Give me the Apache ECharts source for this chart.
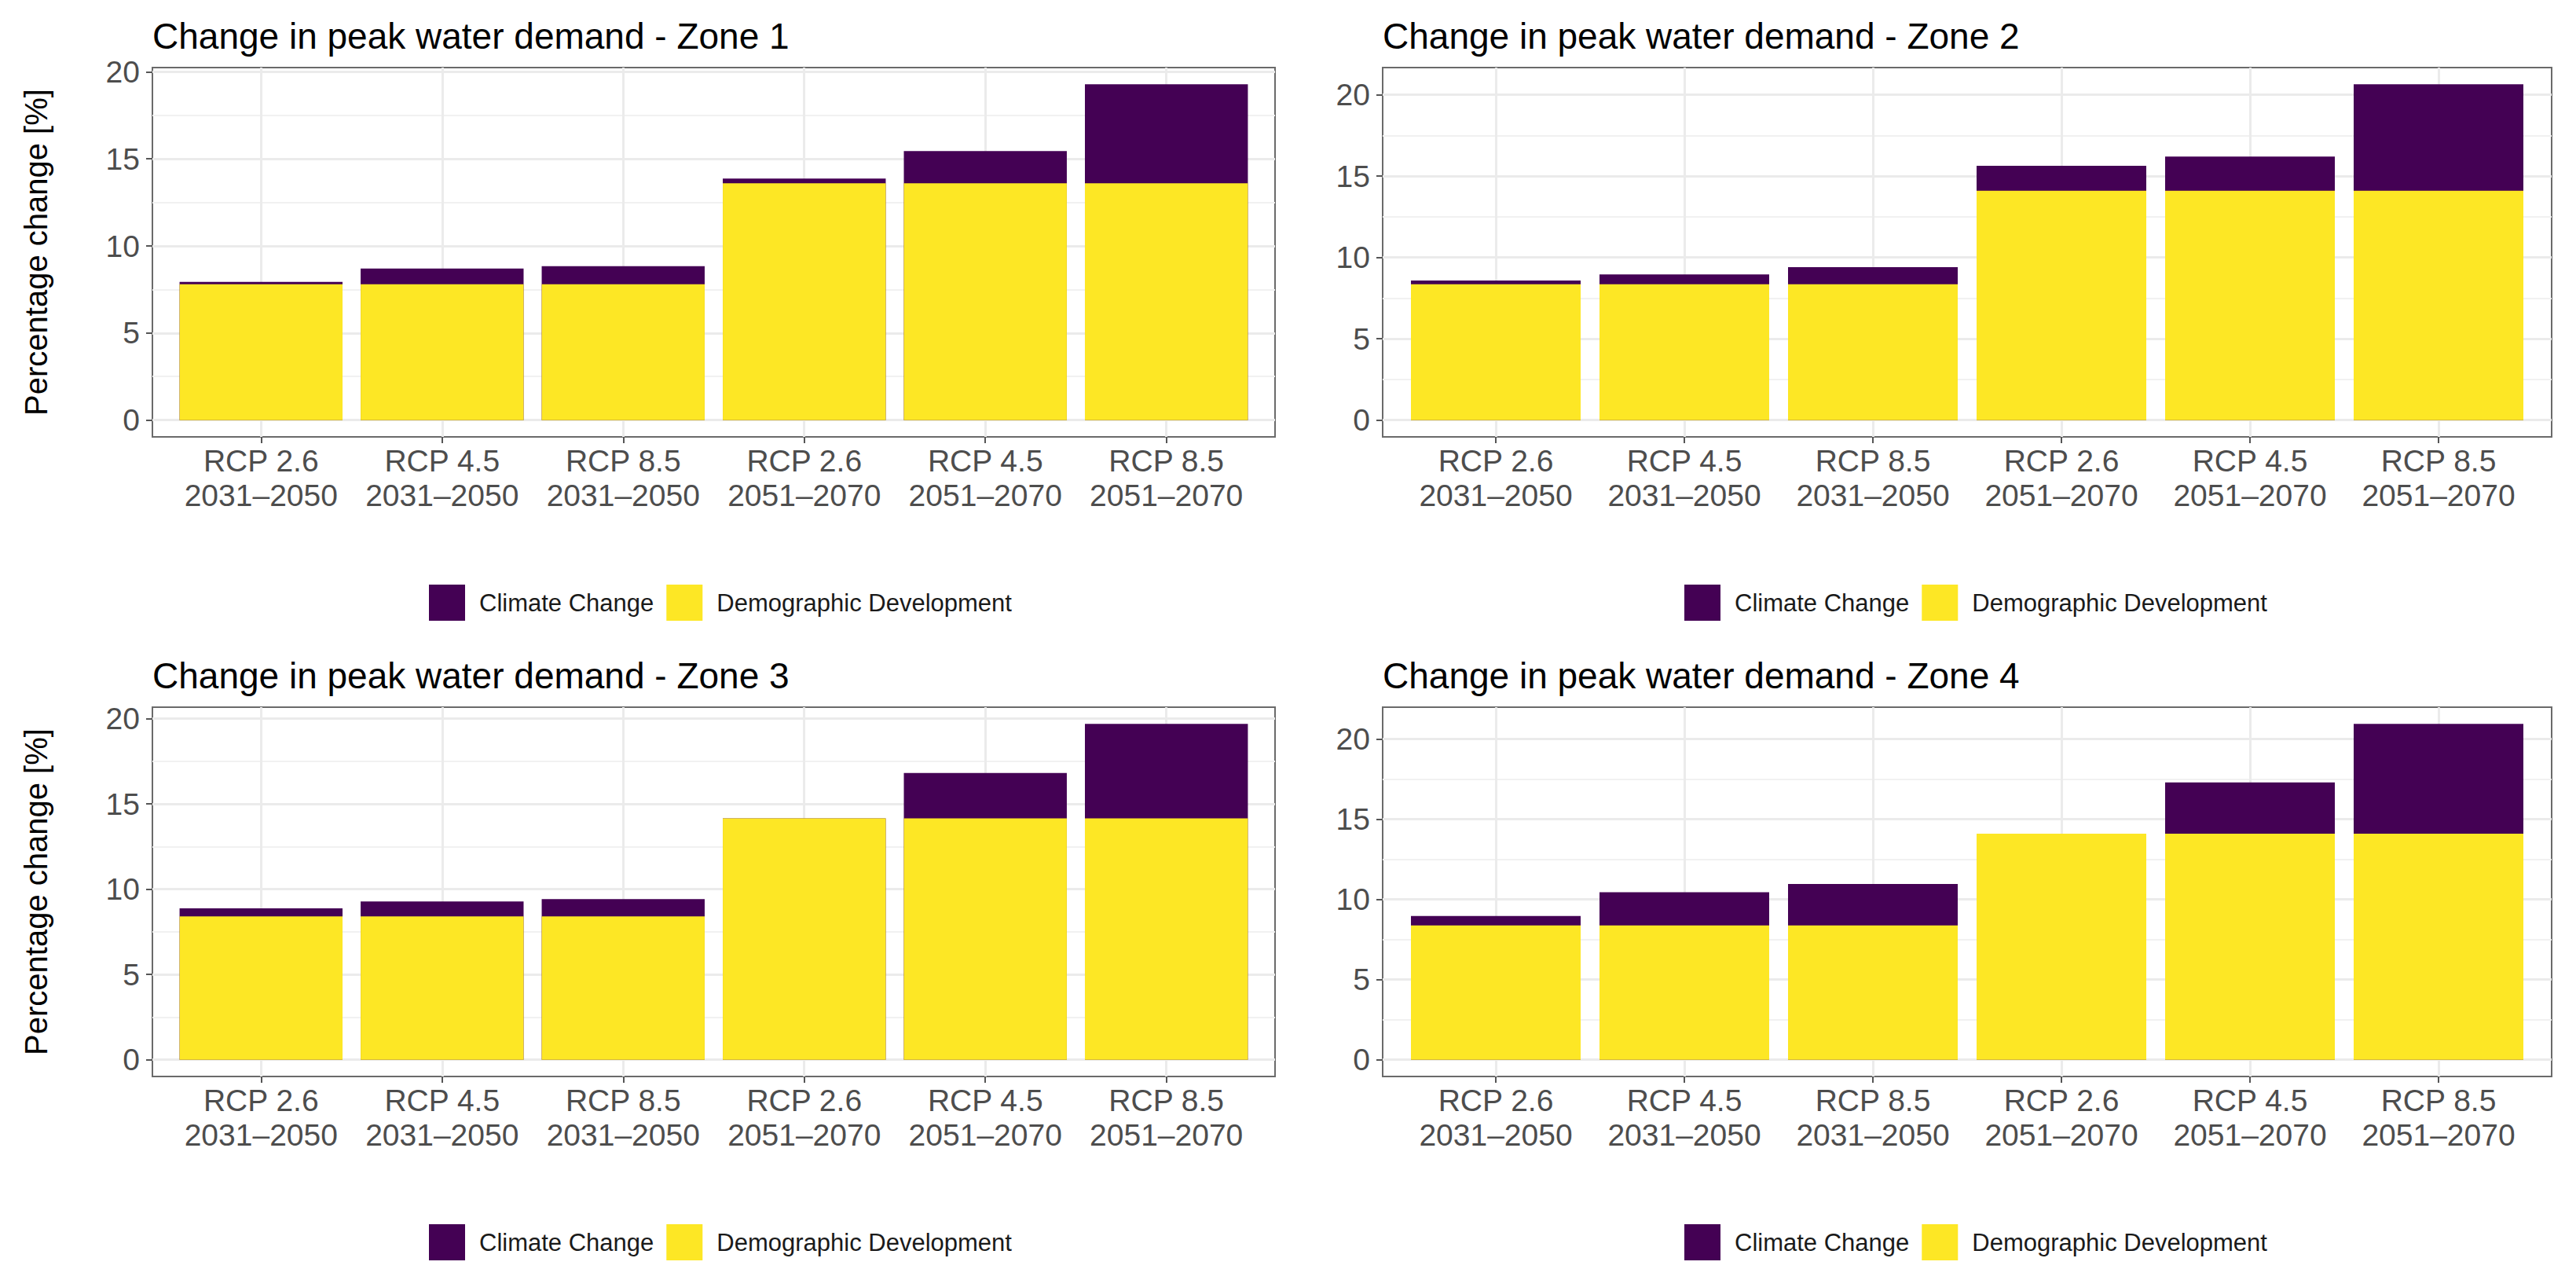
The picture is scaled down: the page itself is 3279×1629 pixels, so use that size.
<!DOCTYPE html>
<html>
<head>
<meta charset="utf-8">
<script src="https://cdn.jsdelivr.net/npm/echarts@6/dist/echarts.min.js"></script>
<style>
html,body{margin:0;padding:0;background:#ffffff;}
#chart{width:3279px;height:1629px;}
</style>
</head>
<body>
<div id="chart"></div>
<script>
// ---------- data ----------
const categories = [
  'RCP 2.6\n2031–2050', 'RCP 4.5\n2031–2050', 'RCP 8.5\n2031–2050',
  'RCP 2.6\n2051–2070', 'RCP 4.5\n2051–2070', 'RCP 8.5\n2051–2070'
];
const zoneTitles = [
  'Change in peak water demand - Zone 1',
  'Change in peak water demand - Zone 2',
  'Change in peak water demand - Zone 3',
  'Change in peak water demand - Zone 4'
];
const seriesNames = ['Climate Change', 'Demographic Development'];
const yAxisTitle = 'Percentage change [%]';

const demographicZone1 = [7.8, 7.8, 7.8, 13.6, 13.6, 13.6];
const climateZone1     = [0.14, 0.9, 1.04, 0.27, 1.85, 5.68];
const demographicZone2 = [8.35, 8.35, 8.35, 14.1, 14.1, 14.1];
const climateZone2     = [0.23, 0.6, 1.05, 1.53, 2.1, 6.54];
const demographicZone3 = [8.4, 8.4, 8.4, 14.15, 14.15, 14.15];
const climateZone3     = [0.48, 0.88, 1.02, 0.0, 2.67, 5.54];
const demographicZone4 = [8.38, 8.38, 8.38, 14.1, 14.1, 14.1];
const climateZone4     = [0.59, 2.07, 2.59, 0.0, 3.2, 6.85];

const yTicks = [0, 5, 10, 15, 20];
const yMinorTicks = [2.5, 7.5, 12.5, 17.5];

// ---------- styling / layout ----------
const FONT = '"Liberation Sans", Arial, Helvetica, sans-serif';
const COLOR_CLIMATE = '#440154';
const COLOR_DEMO = '#FDE725';
const AXIS_TEXT = '#4d4d4d';

const zones = [
  {demo: demographicZone1, clim: climateZone1},
  {demo: demographicZone2, clim: climateZone2},
  {demo: demographicZone3, clim: climateZone3},
  {demo: demographicZone4, clim: climateZone4}
];
const ROW_SHIFT = 814;
const panels = [
  {left: 194,  top: 86,              width: 1429, height: 470, yTitle: true,  legendLeft: 546},
  {left: 1760, top: 86,              width: 1488, height: 470, yTitle: false, legendLeft: 2144},
  {left: 194,  top: 86 + ROW_SHIFT,  width: 1429, height: 470, yTitle: true,  legendLeft: 546},
  {left: 1760, top: 86 + ROW_SHIFT,  width: 1488, height: 470, yTitle: false, legendLeft: 2144}
];
const xIdx = categories.map((c, i) => i);

const chart = echarts.init(document.getElementById('chart'), null, {renderer: 'svg'});

const option = {
  backgroundColor: '#ffffff',
  animation: false,
  title: panels.map((p, i) => ({
    text: zoneTitles[i],
    left: p.left,
    top: p.top - 63,
    padding: 0,
    textStyle: {fontFamily: FONT, fontSize: 46, fontWeight: 'normal', color: '#000000'}
  })),
  legend: panels.map((p) => ({
    data: seriesNames,
    left: p.legendLeft,
    top: p.top + 658,
    orient: 'horizontal',
    padding: 0,
    icon: 'rect',
    itemWidth: 46,
    itemHeight: 46,
    itemGap: 16,
    selectedMode: false,
    textStyle: {fontFamily: FONT, fontSize: 31, color: '#1a1a1a', padding: [0, 0, 0, 13]}
  })),
  grid: panels.map((p) => ({
    left: p.left, top: p.top, width: p.width, height: p.height,
    show: true, borderColor: '#6a6a6a', borderWidth: 2, backgroundColor: 'transparent',
    containLabel: false
  })),
  xAxis: panels.map((p, g) => ({
    type: 'value',
    gridIndex: g,
    position: 'bottom',
    min: -0.6,
    max: xIdx.length - 1 + 0.6,
    axisLine: {show: false, onZero: false},
    axisTick: {show: true, length: 8, customValues: xIdx, lineStyle: {color: '#555555', width: 2}},
    axisLabel: {
      show: true, customValues: xIdx, margin: 8,
      fontFamily: FONT, fontSize: 39, lineHeight: 44, color: AXIS_TEXT, align: 'center',
      formatter: (v) => categories[Math.round(v)]
    },
    splitLine: {show: true, lineStyle: {color: '#ebebeb', width: 3}}
  })),
  yAxis: [],
  series: []
};

zones.forEach((z, g) => {
  const totals = z.demo.map((v, i) => v + z.clim[i]);
  const top = Math.max.apply(null, totals);
  const yMin = -0.05 * top;
  const yMax = 1.05 * top;
  const p = panels[g];
  option.yAxis.push({
    type: 'value',
    gridIndex: g,
    min: yMin,
    max: yMax,
    position: 'left',
    name: p.yTitle ? yAxisTitle : '',
    nameLocation: 'middle',
    nameGap: 128,
    nameTextStyle: {fontFamily: FONT, fontSize: 40, color: '#000000'},
    axisLine: {show: false, onZero: false},
    axisTick: {show: true, length: 8, customValues: yTicks, lineStyle: {color: '#555555', width: 2}},
    axisLabel: {show: true, customValues: yTicks, margin: 16, fontFamily: FONT, fontSize: 39, color: AXIS_TEXT},
    splitLine: {show: true, lineStyle: {color: '#ebebeb', width: 3}}
  });
  option.yAxis.push({
    type: 'value',
    gridIndex: g,
    min: yMin,
    max: yMax,
    position: 'right',
    axisLine: {show: false, onZero: false},
    axisTick: {show: false, customValues: yMinorTicks},
    axisLabel: {show: false},
    splitLine: {show: true, lineStyle: {color: '#f1f1f1', width: 2}}
  });
  const yIndex = g * 2;
  // Climate change sits on top of demographic development: drawn as the cumulative
  // total behind the demographic bar (same x slot, overlapping).
  option.series.push({
    name: 'Climate Change',
    type: 'bar',
    xAxisIndex: g,
    yAxisIndex: yIndex,
    barWidth: '90%',
    barGap: '-100%',
    z: 2,
    itemStyle: {color: COLOR_CLIMATE},
    data: z.clim.map((v, i) => [xIdx[i], z.demo[i] + v])
  });
  option.series.push({
    name: 'Demographic Development',
    type: 'bar',
    xAxisIndex: g,
    yAxisIndex: yIndex,
    barWidth: '90%',
    barGap: '-100%',
    z: 3,
    itemStyle: {color: COLOR_DEMO},
    data: z.demo.map((v, i) => [xIdx[i], v])
  });
});

chart.setOption(option);
</script>
</body>
</html>
